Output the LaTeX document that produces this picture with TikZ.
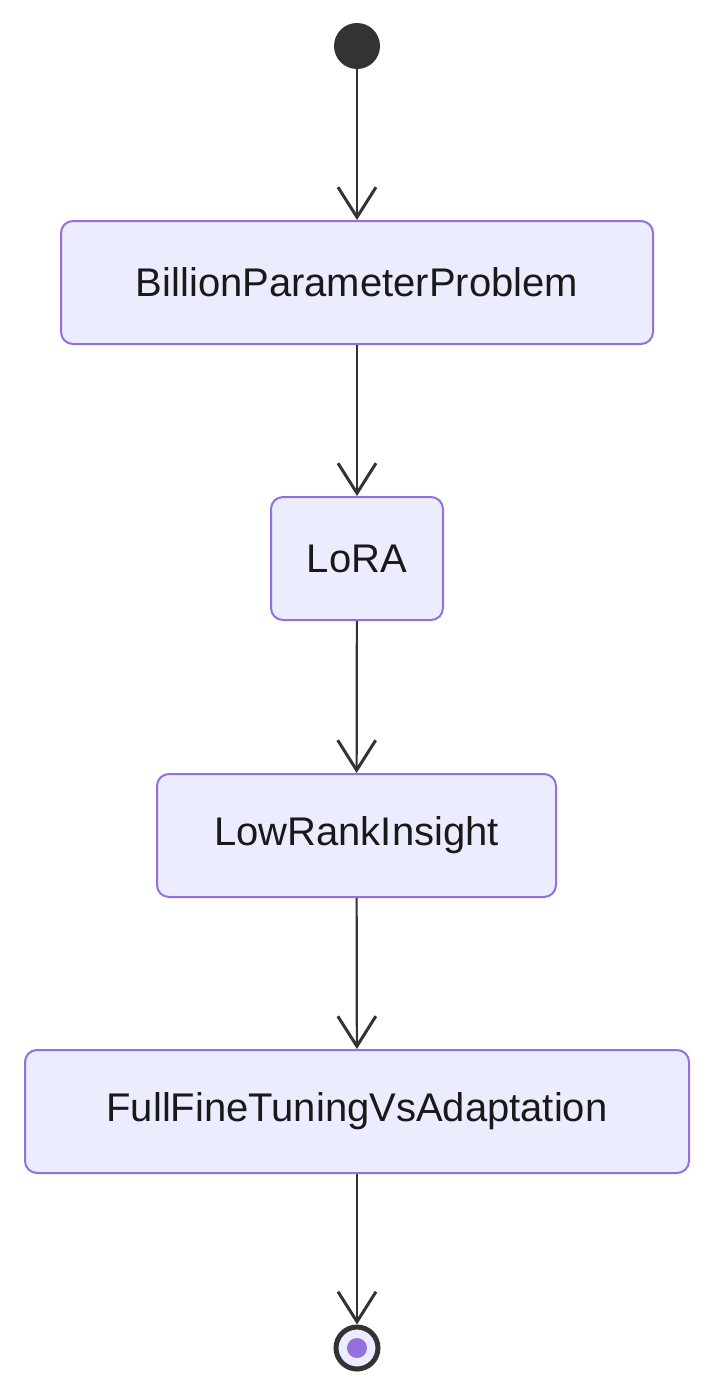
\documentclass[tikz,border=0pt]{standalone}
\usepackage{fontspec}
\setmainfont{Liberation Sans}
\usetikzlibrary{arrows.meta}
\definecolor{boxfill}{HTML}{ECECFF}
\definecolor{boxline}{HTML}{9370DB}
\definecolor{dark}{HTML}{333333}
\begin{document}
\begin{tikzpicture}[x=1pt,y=-1pt,
  st/.style={draw=boxline,fill=boxfill,line width=2pt,rounded corners=12pt,minimum height=123pt,inner sep=0pt,font=\fontsize{40}{48}\selectfont,text=black!90},
  ar/.style={draw=dark,line width=2.2pt,-{Straight Barb[length=30pt,width=38pt,line width=3pt]}}]
\useasboundingbox (0,0) rectangle (714,1395);
\node[circle,fill=dark,minimum size=46pt,inner sep=0pt] (s) at (357,46) {};
\node[st,minimum width=592pt] (a) at (357,282.5) {BillionParameterProblem};
\node[st,minimum width=172pt] (b) at (357,558.5) {LoRA};
\node[st,minimum width=399pt] (c) at (356.5,835.5) {LowRankInsight};
\node[st,minimum width=664pt] (d) at (357,1111.5) {FullFineTuningVsAdaptation};
\node[circle,draw=dark,line width=5pt,fill=boxfill,minimum size=42pt,inner sep=0pt] (e) at (357,1348) {};
\node[circle,fill=boxline,minimum size=20pt,inner sep=0pt] at (e) {};
\draw[ar] (s) -- (a);
\draw[ar] (a) -- (b);
\draw[ar] (b) -- (c);
\draw[ar] (c) -- (d);
\draw[ar] (d) -- (e);
\end{tikzpicture}
\end{document}
